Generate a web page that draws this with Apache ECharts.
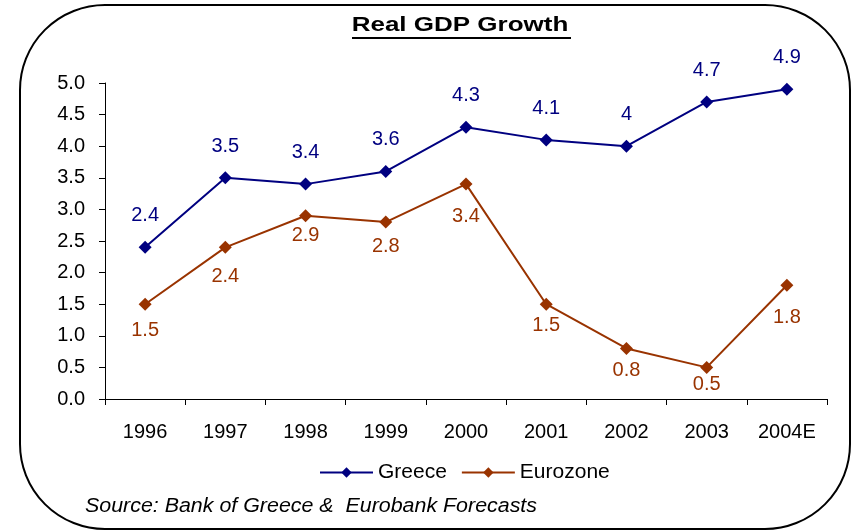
<!DOCTYPE html>
<html>
<head>
<meta charset="utf-8">
<script src="https://cdn.jsdelivr.net/npm/echarts@6/dist/echarts.min.js"></script>
<style>
  html, body { margin: 0; padding: 0; background: #ffffff; }
  #chart { width: 854px; height: 531px; }
</style>
</head>
<body>
<div id="chart"></div>
<script>
// Real GDP growth (%), Greece vs. Eurozone
var years = ['1996', '1997', '1998', '1999', '2000', '2001', '2002', '2003', '2004E'];
var greece = [2.4, 3.5, 3.4, 3.6, 4.3, 4.1, 4.0, 4.7, 4.9];
var eurozone = [1.5, 2.4, 2.9, 2.8, 3.4, 1.5, 0.8, 0.5, 1.8];
var yTicks = ['0.0', '0.5', '1.0', '1.5', '2.0', '2.5', '3.0', '3.5', '4.0', '4.5', '5.0'];

// per-point spacing of the Eurozone value labels below their markers
var euroLabelGap = [10, 13, 3, 8, 16, 5, 6, 1, 16];

var FONT = '"Liberation Sans", Arial, sans-serif';
var NAVY = '#000080';
var BROWN = '#993300';

var chart = echarts.init(document.getElementById('chart'), null, { renderer: 'canvas' });

var euroData = eurozone.map(function (v, i) {
  return {
    value: v,
    label: { distance: euroLabelGap[i] }
  };
});

chart.setOption({
  animation: false,
  backgroundColor: '#ffffff',
  grid: { left: 105, right: 27, top: 83, bottom: 132, containLabel: false },
  xAxis: {
    type: 'category',
    data: years,
    boundaryGap: true,
    axisLine: { lineStyle: { color: '#000', width: 1 } },
    axisTick: { show: true, alignWithLabel: false, length: 6, lineStyle: { color: '#000' } },
    axisLabel: { color: '#000', fontFamily: FONT, fontSize: 20, margin: 23 },
    splitLine: { show: false }
  },
  yAxis: {
    type: 'value',
    min: 0,
    max: 5,
    interval: 0.5,
    axisLine: { show: true, lineStyle: { color: '#000', width: 1 } },
    axisTick: { show: true, length: 6, lineStyle: { color: '#000' } },
    axisLabel: {
      color: '#000', fontFamily: FONT, fontSize: 20, margin: 20,
      formatter: function (v) { return yTicks[Math.round(v * 2)]; }
    },
    splitLine: { show: false }
  },
  legend: {
    left: 314,
    top: 457,
    itemWidth: 53,
    itemHeight: 13,
    itemGap: 14,
    textStyle: { color: '#000', fontFamily: FONT, fontSize: 21, padding: [0, 0, 0, 0] },
    data: ['Greece', 'Eurozone']
  },
  series: [
    {
      name: 'Greece',
      type: 'line',
      data: greece,
      symbol: 'diamond',
      symbolSize: 13,
      lineStyle: { color: NAVY, width: 2 },
      itemStyle: { color: NAVY },
      label: {
        show: true,
        position: 'top',
        distance: 15,
        color: NAVY,
        fontFamily: FONT,
        fontSize: 20,
        formatter: function (p) { return String(p.value); }
      }
    },
    {
      name: 'Eurozone',
      type: 'line',
      data: euroData,
      symbol: 'diamond',
      symbolSize: 13,
      lineStyle: { color: BROWN, width: 2 },
      itemStyle: { color: BROWN },
      label: {
        show: true,
        position: 'bottom',
        color: BROWN,
        fontFamily: FONT,
        fontSize: 20,
        formatter: function (p) { return String(p.value); }
      }
    }
  ],
  graphic: [
    {
      type: 'rect',
      shape: { x: 20, y: 5, width: 830, height: 524, r: 85 },
      style: { fill: 'none', stroke: '#000', lineWidth: 2 },
      z: -1
    },
    {
      type: 'text',
      x: 460,
      y: 25,
      scaleX: 1.3,
      style: {
        text: 'Real GDP Growth',
        font: 'bold 20px ' + FONT,
        fill: '#000',
        align: 'center',
        verticalAlign: 'middle'
      }
    },
    {
      type: 'line',
      shape: { x1: 352, y1: 38, x2: 571, y2: 38 },
      style: { stroke: '#000', lineWidth: 2 }
    },
    {
      type: 'text',
      x: 85,
      y: 506,
      scaleX: 1.07,
      style: {
        text: 'Source: Bank of Greece &  Eurobank Forecasts',
        font: 'italic 20px ' + FONT,
        fill: '#000',
        align: 'left',
        verticalAlign: 'middle'
      }
    }
  ]
});
</script>
</body>
</html>
